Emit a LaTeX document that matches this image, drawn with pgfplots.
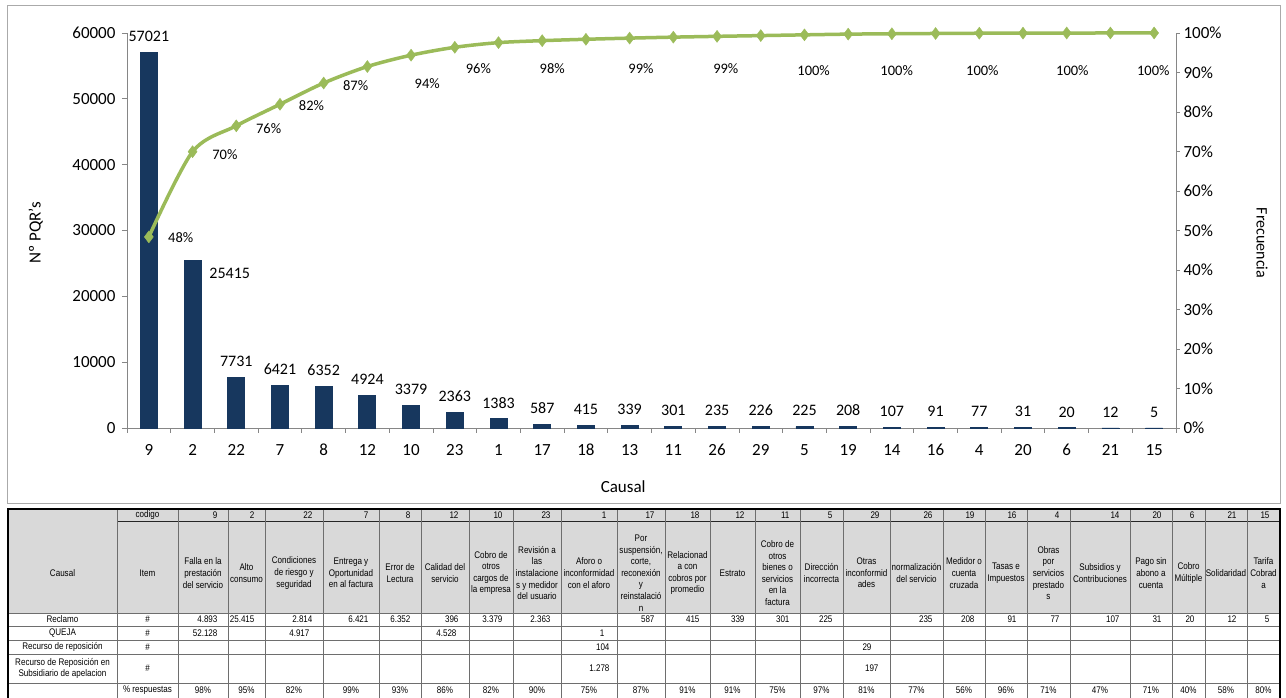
\documentclass[border=0pt]{standalone}
\usepackage{fontspec}
\setmainfont{Carlito}
\newfontfamily\tabfont{Liberation Sans}[FakeStretch=0.84]
\usepackage{pgfplots}
\usepackage{pgfplotstable}
\pgfplotsset{compat=1.18}
\definecolor{barblue}{RGB}{23,55,94}
\definecolor{linegreen}{RGB}{155,187,89}
\definecolor{axgray}{RGB}{134,134,134}
\definecolor{hdrgray}{RGB}{217,217,217}
\definecolor{framegray}{RGB}{170,170,170}
\definecolor{tabline}{RGB}{110,110,110}

\pgfplotstableread{
x y lab
0 57021 57021
1 25415 {}
2 7731 7731
3 6421 6421
4 6352 6352
5 4924 4924
6 3379 3379
7 2363 2363
8 1383 1383
9 587 587
10 415 415
11 339 339
12 301 301
13 235 235
14 226 226
15 225 225
16 208 208
17 107 107
18 91 91
19 77 77
20 31 31
21 20 20
22 12 12
23 5 5
}\bars

\pgfplotstableread{
x c
0 48.38
1 69.94
2 76.50
3 81.95
4 87.33
5 91.51
6 94.38
7 96.38
8 97.56
9 98.06
10 98.41
11 98.70
12 98.95
13 99.15
14 99.34
15 99.53
16 99.71
17 99.80
18 99.88
19 99.94
20 99.97
21 99.99
22 100.00
23 100.00
}\cum

\newcommand{\tf}[1]{\fontsize{#1}{#1}\selectfont}

\begin{document}
\begin{tikzpicture}
\useasboundingbox (0,0) rectangle (1286pt,698pt);
\fill[white] (0,0) rectangle (1286pt,698pt);
\begin{scope}[x=1pt,y=-1pt,yshift=698pt]
\draw[framegray, line width=1pt] (7,6) rectangle (1280,504);
\end{scope}

\begin{axis}[
 at={(127pt,270pt)}, anchor=south west,
 scale only axis, width=1049pt, height=395pt,
 xmin=-0.5, xmax=23.5, ymin=0, ymax=60000,
 axis x line*=bottom, axis y line*=left,
 axis line style={axgray, line width=0.8pt},
 xtick={0,...,23},
 xticklabels={9,2,22,7,8,12,10,23,1,17,18,13,11,26,29,5,19,14,16,4,20,6,21,15},
 minor xtick={-0.5,0.5,...,23.5},
 ytick={0,10000,...,60000},
 tick align=outside,
 major tick length=5pt, minor tick length=5pt,
 tick style={axgray, line width=0.8pt},
 major x tick style={draw=none},
 ticklabel style={font=\tf{17}, text=black},
 xticklabel style={yshift=-8pt, text height=11pt, text depth=0pt},
 yticklabel style={xshift=-3pt},
 /pgf/number format/1000 sep={},
 /pgf/number format/assume math mode=true,
 scaled y ticks=false,
 xlabel={Causal}, ylabel={Nº PQR's},
 every axis x label/.style={at={(axis description cs:0.473,-0.149)},anchor=center,font=\tf{17}},
 every axis y label/.style={at={(axis description cs:-0.087,0.494)},anchor=center,rotate=90,font=\tf{17}},
 clip=false,
 nodes near coords, point meta=explicit symbolic,
 every node near coord/.append style={font=\tf{16}, text=black, anchor=south, yshift=7pt},
]
\addplot[ybar, bar width=17pt, fill=barblue, draw=barblue, line width=0.8pt] table[x=x,y=y,meta=lab] {\bars};
\node[font=\tf{16}, text=black] at (axis cs:1.85,23544) {25415};
\end{axis}

\begin{axis}[
 at={(127pt,270pt)}, anchor=south west,
 scale only axis, width=1049pt, height=395pt,
 xmin=-0.5, xmax=23.5, ymin=0, ymax=100,
 axis x line=none, axis y line*=right,
 axis line style={axgray, line width=0.8pt},
 ytick={0,10,...,100},
 yticklabel={\pgfmathprintnumber{\tick}\%},
 tick align=outside, major tick length=4pt,
 tick style={axgray, line width=0.8pt},
 ticklabel style={font=\tf{17}, text=black},
 /pgf/number format/assume math mode=true,
 ylabel={Frecuencia},
 every axis y label/.style={at={(axis description cs:1.082,0.468)},anchor=center,rotate=-90,font=\tf{16}},
 clip=false,
]
\addplot[linegreen, line width=3.5pt, smooth, tension=0.5, mark=diamond*, mark size=6pt, mark options={solid, line width=0.4pt, fill=linegreen, draw=linegreen}] table[x=x,y=c] {\cum};
\begin{scope}[font=\tf{14.5}, text=black]
\node at (axis cs:0.73,48.1) {48\%};
\node at (axis cs:1.74,69.1) {70\%};
\node at (axis cs:2.74,75.9) {76\%};
\node at (axis cs:3.72,81.5) {82\%};
\node at (axis cs:4.73,86.6) {87\%};
\node at (axis cs:6.37,87.3) {94\%};
\node at (axis cs:7.54,90.9) {96\%};
\node at (axis cs:9.23,91.1) {98\%};
\node at (axis cs:11.26,91.1) {99\%};
\node at (axis cs:13.2,91.1) {99\%};
\node at (axis cs:15.21,90.6) {100\%};
\node at (axis cs:17.11,90.6) {100\%};
\node at (axis cs:19.07,90.6) {100\%};
\node at (axis cs:21.13,90.4) {100\%};
\node at (axis cs:22.98,90.6) {100\%};
\end{scope}
\end{axis}

\begin{scope}[x=1pt,y=-1pt,yshift=698pt, font=\tabfont\fontsize{9.6}{11.6}\selectfont]
\fill[hdrgray] (8,509) rectangle (1280,613);
\draw[black!85, line width=1pt] (117,522) -- (1280,522);
\foreach \yy in {613,626,640,654,683} \draw[tabline, line width=0.7pt] (8,\yy) -- (1280,\yy);
\foreach \xx in {117,178,228,265,323,379,421,469,513,561,617,665,710,755,800,843,890,943,985,1027,1070,1130,1172,1205,1247}
  \draw[tabline, line width=0.7pt] (\xx,509) -- (\xx,700);
\draw[black, line width=2pt] (8,700) -- (8,509) -- (1280,509) -- (1280,700);
\node at (62.5,573) {Causal};
\node at (147.5,515.5) {codigo};
\node at (147.5,573) {Item};
\node at (62.5,619.5) {Reclamo};
\node at (62.5,633) {QUEJA};
\node at (62.5,647) {Recurso de reposición};
\node[align=center] at (62.5,668.5) {Recurso de Reposición en\\Subsidiario de apelacion};
\foreach \yy in {619.5,633,647,668.5} \node at (147.5,\yy) {\#};
\node at (147.5,690.5) {\% respuestas};
\foreach \l/\r/\cod/\itm/\rec/\pct in {
178/228/9/{Falla en la\\prestación\\del servicio}/4.893/98,
228/265/2/{Alto\\consumo}/25.415/95,
265/323/22/{Condiciones\\de riesgo y\\seguridad}/2.814/82,
323/379/7/{Entrega y\\Oportunidad\\en al factura}/6.421/99,
379/421/8/{Error de\\Lectura}/6.352/93,
421/469/12/{Calidad del\\servicio}/396/86,
469/513/10/{Cobro de\\otros\\cargos de\\la empresa}/3.379/82,
513/561/23/{Revisión a\\las\\instalacione\\s y medidor\\del usuario}/2.363/90,
561/617/1/{Aforo o\\inconformidad\\con el aforo}/{}/75,
617/665/17/{Por\\suspensión,\\corte,\\reconexión\\y\\reinstalació\\n}/587/87,
665/710/18/{Relacionad\\a con\\cobros por\\promedio}/415/91,
710/755/12/{Estrato}/339/91,
755/800/11/{Cobro de\\otros\\bienes o\\servicios\\en la\\factura}/301/75,
800/843/5/{Dirección\\incorrecta}/225/97,
843/890/29/{Otras\\inconformid\\ades}/{}/81,
890/943/26/{normalización\\del servicio}/235/77,
943/985/19/{Medidor o\\cuenta\\cruzada}/208/56,
985/1027/16/{Tasas e\\Impuestos}/91/96,
1027/1070/4/{Obras\\por\\servicios\\prestado\\s}/77/71,
1070/1130/14/{Subsidios y\\Contribuciones}/107/47,
1130/1172/20/{Pago sin\\abono a\\cuenta}/31/71,
1172/1205/6/{Cobro\\Múltiple}/20/40,
1205/1247/21/{Solidaridad}/12/58,
1247/1280/15/{Tarifa\\Cobrad\\a}/5/80}
{
 \node[anchor=east] at (\r-7,515.5) {\cod};
 \node[align=center, inner sep=1pt] at ({(\l+\r)/2},573) {\itm};
 \node[anchor=east] at (\r-7,619.5) {\rec};
 \node at ({(\l+\r)/2},690.5) {\pct\%};
}
\node[anchor=east] at (221,633) {52.128};
\node[anchor=east] at (313,633) {4.917};
\node[anchor=east] at (460,633) {4.528};
\node[anchor=east] at (608,633) {1};
\node[anchor=east] at (613,647) {104};
\node[anchor=east] at (613,668.5) {1.278};
\node[anchor=east] at (875,647) {29};
\node[anchor=east] at (882,668.5) {197};
\end{scope}
\end{tikzpicture}
\end{document}
